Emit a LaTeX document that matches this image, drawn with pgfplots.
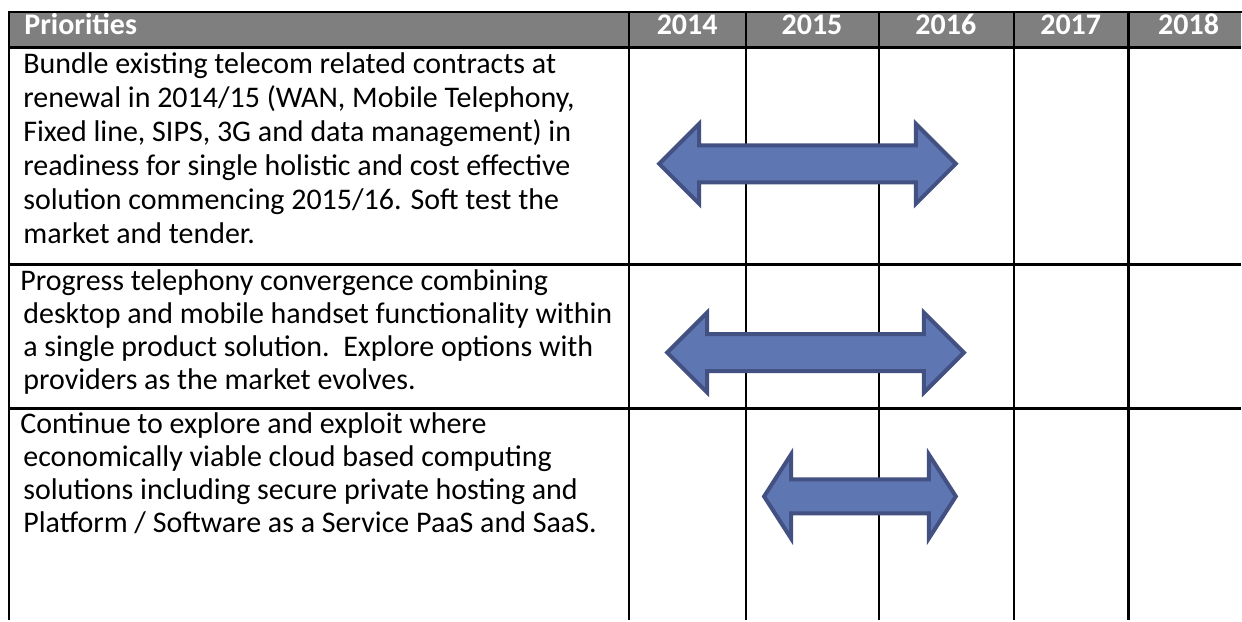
\documentclass[border=0pt]{standalone}
\usepackage{pgfplots}
\pgfplotsset{compat=1.18}
\usepackage{fontspec}
\setmainfont{Carlito}
\definecolor{hdr}{HTML}{7F7F7F}
\definecolor{arrfill}{HTML}{5E76B2}
\definecolor{arredge}{HTML}{435182}
\begin{document}
\begin{tikzpicture}[x=0.5pt,y=0.5pt]
\begin{axis}[
  scale only axis, width=621pt, height=310.5pt,
  xmin=0, xmax=1242, ymin=0, ymax=621, y dir=reverse,
  axis lines=none, ticks=none, clip=false,
]
% frame of the picture (invisible, fixes the bounding box)
\addplot[draw=none, forget plot] coordinates {(0,0) (1242,0) (1242,621) (0,621)};
% header band
\addplot[fill=hdr, draw=none] coordinates {(9,12) (1242,12) (1242,48) (9,48)} -- cycle;
% horizontal rules
\addplot[black, line width=1.2pt, line cap=rect] coordinates {(9,12) (1242,12)};
\addplot[black, line width=1.5pt] coordinates {(9,48) (1242,48)};
\addplot[black, line width=1.2pt] coordinates {(9,265) (1242,265)};
\addplot[black, line width=1.2pt] coordinates {(9,409) (1242,409)};
% vertical rules
\addplot[black, line width=1.2pt] coordinates {(9,12) (9,621)};
\addplot[black, line width=1.2pt] coordinates {(630,12) (630,621)};
\addplot[black, line width=1.2pt] coordinates {(747,12) (747,621)};
\addplot[black, line width=1.2pt] coordinates {(880,12) (880,621)};
\addplot[black, line width=1.2pt] coordinates {(1015,12) (1015,621)};
\addplot[black, line width=1.2pt] coordinates {(1130,12) (1130,621)};
% arrows
\addplot[fill=arrfill, draw=arredge, line width=2pt, line join=miter] coordinates {
 (660,164) (700,124) (700,145.5) (917,145.5) (917,124) (957,164) (917,204) (917,182.5) (700,182.5) (700,204)} -- cycle;
\addplot[fill=arrfill, draw=arredge, line width=2pt, line join=miter] coordinates {
 (668,353) (708,313) (708,334.5) (925,334.5) (925,313) (965,353) (925,393) (925,371.5) (708,371.5) (708,393)} -- cycle;
\addplot[fill=arrfill, draw=arredge, line width=2pt, line join=miter] coordinates {
 (765,497) (792,455) (792,480) (930,480) (930,455) (957,497) (930,539) (930,514) (792,514) (792,539)} -- cycle;
% header text
\begin{scope}[every node/.style={text=white, font=\fontsize{15}{18}\selectfont\bfseries, inner sep=0pt}]
\node[anchor=mid west] at (axis cs:24,30) {Priorities};
\node[anchor=mid] at (axis cs:688,30) {2014};
\node[anchor=mid] at (axis cs:813,30) {2015};
\node[anchor=mid] at (axis cs:947,30) {2016};
\node[anchor=mid] at (axis cs:1072,30) {2017};
\node[anchor=mid] at (axis cs:1190,30) {2018};
\end{scope}
% body text
\begin{scope}[every node/.style={text=black, font=\fontsize{15}{18}\selectfont, inner sep=0pt, anchor=mid west}]
\node at (axis cs:23,69) {Bundle existing telecom related contracts at};
\node at (axis cs:23,103) {renewal in 2014/15 (WAN, Mobile Telephony,};
\node at (axis cs:23,137) {Fixed line, SIPS, 3G and data management) in};
\node at (axis cs:23,171) {readiness for single holistic and cost effective};
\node at (axis cs:23,205) {solution commencing 2015/16. Soft test the};
\node at (axis cs:23,239) {market and tender.};
\node at (axis cs:20,286) {Progress telephony convergence combining};
\node at (axis cs:23,319) {desktop and mobile handset functionality within};
\node at (axis cs:23,352) {a single product solution.\ \ Explore options with};
\node at (axis cs:23,385) {providers as the market evolves.};
\node at (axis cs:20,429) {Continue to explore and exploit where};
\node at (axis cs:23,462) {economically viable cloud based computing};
\node at (axis cs:23,495) {solutions including secure private hosting and};
\node at (axis cs:23,528) {Platform / Software as a Service PaaS and SaaS.};
\end{scope}
\end{axis}
\end{tikzpicture}
\end{document}
